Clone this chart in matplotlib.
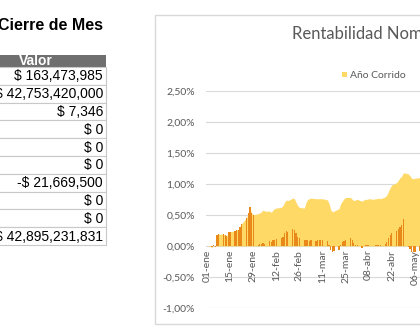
import numpy as np
import pandas as pd
import matplotlib
matplotlib.use('Agg')
import matplotlib.pyplot as plt
from matplotlib.patches import Rectangle

# table on the left (cut by the screenshot)
table_title = 'Cierre de Mes'
table_header = 'Valor'
table_values = ['$ 163,473,985', '$ 42,753,420,000', '$ 7,346', '$ 0', '$ 0',
                '$ 0', '-$ 21,669,500', '$ 0', '$ 0', '$ 42,895,231,831']

# chart data, business days of 2016 from 01-ene
dates = pd.bdate_range('2016-01-01', '2016-05-13')
ano_corrido = [
    # ene
    0.00, -0.02, 0.01, -0.01, 0.18, 0.19, 0.19, 0.17, 0.16, 0.22, 0.23,
    0.24, 0.26, 0.26, 0.30, 0.36, 0.45, 0.53, 0.62, 0.53, 0.50,
    # feb
    0.52, 0.53, 0.55, 0.58, 0.56, 0.56, 0.54, 0.58, 0.60, 0.61, 0.62,
    0.65, 0.70, 0.74, 0.73, 0.77, 0.76, 0.70, 0.65, 0.62, 0.61,
    # mar
    0.70, 0.75, 0.76, 0.77, 0.76, 0.76, 0.76, 0.76, 0.76, 0.74, 0.68,
    0.58, 0.55, 0.56, 0.60, 0.68, 0.72, 0.76, 0.78, 0.78, 0.75, 0.73, 0.74,
    # abr
    0.75, 0.72, 0.74, 0.75, 0.75, 0.76, 0.75, 0.76, 0.76, 0.77, 0.76,
    0.79, 0.82, 0.88, 0.94, 0.98, 1.02, 1.06, 1.10, 1.12, 1.18,
    # may
    1.16, 1.13, 1.09, 1.08, 1.09, 1.10, 1.12, 1.13, 1.12, 1.14,
]
mes_corrido = [
    # ene
    0.00, -0.02, 0.01, -0.01, 0.18, 0.19, 0.19, 0.17, 0.16, 0.22, 0.23,
    0.24, 0.26, 0.26, 0.30, 0.36, 0.45, 0.53, 0.62, 0.53, 0.50,
    # feb
    0.01, 0.03, 0.03, 0.05, 0.03, 0.08, 0.06, 0.10, 0.10, 0.11, 0.12,
    0.15, 0.20, 0.24, 0.22, 0.27, 0.25, 0.20, 0.14, 0.12, 0.10,
    # mar
    0.10, 0.09, 0.08, 0.09, 0.08, 0.09, 0.09, 0.10, 0.10, 0.08, 0.02,
    -0.07, -0.09, -0.08, -0.06, 0.02, 0.06, 0.08, 0.09, 0.12, 0.10, 0.05, 0.02,
    # abr
    0.01, -0.04, 0.00, 0.01, 0.01, 0.01, 0.00, 0.01, 0.01, 0.02, 0.01,
    0.03, 0.06, 0.12, 0.18, 0.21, 0.24, 0.27, 0.31, 0.33, 0.43,
    # may
    -0.02, -0.05, -0.09, -0.10, -0.09, -0.08, -0.06, -0.05, -0.06, -0.04,
]
tick_dates = pd.date_range('2016-01-01', '2016-05-06', freq='14D')
meses = ['ene', 'feb', 'mar', 'abr', 'may']
y_ticks = [-1.0, -0.5, 0.0, 0.5, 1.0, 1.5, 2.0, 2.5]

yellow = '#FFD966'
orange = '#E8891A'
gray_txt = '#595959'

fig = plt.figure(figsize=(4.2, 3.36), dpi=100)

# background layer in pixel coords
bg = fig.add_axes([0, 0, 1, 1])
bg.set_xlim(0, 420)
bg.set_ylim(336, 0)
bg.axis('off')

bg.text(-2, 25, table_title, fontsize=11.5, fontweight='bold',
        family='Liberation Sans', va='center', ha='left')
bg.add_patch(Rectangle((-40, 55), 146, 12, facecolor='#6F6F6F', edgecolor='none'))
bg.text(36, 61, table_header, fontsize=10, fontweight='bold', color='white',
        family='Liberation Sans', va='center', ha='center')
row_h = 17.8
top = 67
for i, v in enumerate(table_values):
    y0 = top + i * row_h
    bg.add_patch(Rectangle((-40, y0), 146, row_h, facecolor='white',
                           edgecolor='#C8C8C8', linewidth=0.8))
    bg.text(103, y0 + row_h / 2 + 0.5, v, fontsize=10, family='Liberation Sans',
            va='center', ha='right')

# chart frame
bg.add_patch(Rectangle((155, 15), 300, 309, facecolor='white',
                       edgecolor='#D9D9D9', linewidth=1))
bg.text(292, 34, 'Rentabilidad Nominal', fontsize=12, color=gray_txt,
        family='Lato', va='center', ha='left')
bg.add_patch(Rectangle((342, 72), 5, 5, facecolor=yellow, edgecolor='none'))
bg.text(350, 75, 'Año Corrido', fontsize=7.5, color=gray_txt,
        family='Lato', va='center', ha='left')

# chart axes
px_day = 1.65
x0 = -0.6
x1 = 140
left_px = 207 + x0 * px_day
width_px = (x1 - x0) * px_day
ax = fig.add_axes([left_px / 420, (336 - 308) / 336, width_px / 420,
                   (308 - 90.7) / 336])
ax.patch.set_alpha(0)

days = np.array([(d - dates[0]).days for d in dates])
ax.fill_between(days, 0, ano_corrido, color=yellow, linewidth=0, zorder=2)
ax.bar(days, mes_corrido, width=0.75, color=orange, zorder=3)

ax.set_xlim(x0, x1)
ax.set_ylim(-1.0, 2.5)
ax.set_yticks(y_ticks)
ax.set_yticklabels([('%.2f%%' % t).replace('.', ',') for t in y_ticks])
ax.yaxis.grid(True, color='#D9D9D9', linewidth=0.8, zorder=0)
ax.set_axisbelow(True)
for s in ax.spines.values():
    s.set_visible(False)
ax.tick_params(axis='y', length=0, pad=8, labelsize=7.5, labelcolor=gray_txt)

# date labels sit under the zero line, like excel
for d in tick_dates:
    x = (d - dates[0]).days
    lbl = '%02d-%s' % (d.day, meses[d.month - 1])
    ax.text(x, -0.06, lbl, rotation=90, fontsize=7.5, color=gray_txt,
            family='Lato', ha='center', va='top', zorder=4)
ax.set_xticks([])
for lab in ax.get_yticklabels():
    lab.set_family('Lato')

fig.savefig('out.png', dpi=100)
